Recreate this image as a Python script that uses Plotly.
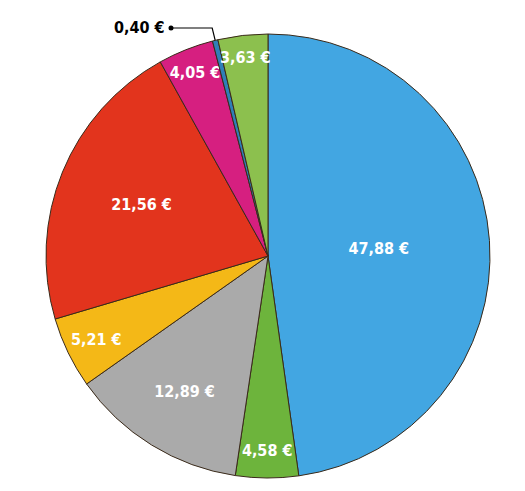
import math
import plotly.graph_objects as go

values = [47.88, 4.58, 12.89, 5.21, 21.56, 4.05, 0.40, 3.63]
labels = ["47,88 €", "4,58 €", "12,89 €", "5,21 €", "21,56 €", "4,05 €", "0,40 €", "3,63 €"]
colors = ["#42a6e2", "#6db43c", "#aaaaaa", "#f4b817", "#e2341d", "#d61f80", "#2f7fb8", "#8cc04e"]
small_idx = 6  # the 0,40 € slice gets an outside callout

W, H = 525, 491
OFF = 8  # page body margin of the rendered html
# pie placement in page pixels (centre, radius)
CX, CY, R = 268 - OFF, 256 - OFF, 222

positions = ["inside"] * len(values)
positions[small_idx] = "none"

FONT = "DejaVu Sans Condensed, Liberation Sans Narrow, sans-serif"

fig = go.Figure(go.Pie(
    values=values,
    text=labels,
    textinfo="text",
    sort=False,
    direction="clockwise",
    rotation=0,
    marker=dict(colors=colors, line=dict(color="#3a2a1a", width=1)),
    textposition=positions,
    insidetextorientation="horizontal",
    textfont=dict(family=FONT, size=16, color="white", weight="bold"),
    hoverinfo="skip",
    domain=dict(x=[(CX - R) / W, (CX + R) / W], y=[(H - CY - R) / H, (H - CY + R) / H]),
))

# callout for the tiny slice, anchored at its mid-angle on the rim
total = sum(values)
mid = (sum(values[:small_idx]) + values[small_idx] / 2) / total
ang = 2 * math.pi * mid
tip_x = CX + R * math.sin(ang)
tip_y = CY - R * math.cos(ang)
lab_y = 28 - OFF
dot_x = 171 - OFF

def px(x):
    return x / W

def py(y):
    return 1 - y / H

fig.add_shape(type="path", xref="paper", yref="paper",
              path=f"M {px(dot_x)} {py(lab_y)} L {px(tip_x - 3)} {py(lab_y)} L {px(tip_x)} {py(tip_y)}",
              line=dict(color="black", width=1.2))
fig.add_shape(type="circle", xref="paper", yref="paper",
              x0=px(dot_x - 2.5), x1=px(dot_x + 2.5), y0=py(lab_y + 2.5), y1=py(lab_y - 2.5),
              fillcolor="black", line=dict(color="black", width=0))
fig.add_annotation(xref="paper", yref="paper", x=px(dot_x - 4), y=py(lab_y),
                   xanchor="right", yanchor="middle", showarrow=False,
                   text=labels[small_idx],
                   font=dict(family=FONT, size=16, color="black", weight="bold"))

fig.update_layout(
    width=W, height=H,
    margin=dict(l=0, r=0, t=0, b=0),
    paper_bgcolor="white",
    plot_bgcolor="white",
    showlegend=False,
    uniformtext=dict(minsize=15, mode="show"),
)

fig.write_html("out.html")
